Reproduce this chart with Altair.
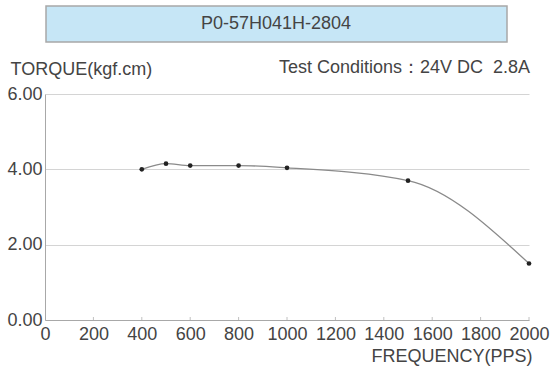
import altair as alt
import pandas as pd

freq = [400, 500, 600, 800, 1000, 1500, 2000]
torque = [4.00, 4.15, 4.10, 4.10, 4.04, 3.70, 1.50]
x_ticks = [0, 200, 400, 600, 800, 1000, 1200, 1400, 1600, 1800, 2000]
y_ticks = [0, 2, 4, 6]
model = "P0-57H041H-2804"
cond = "Test Conditions：24V DC\u00a0 2.8A"

df = pd.DataFrame({"f": freq, "t": torque})
ticks_df = pd.DataFrame({"f": x_ticks[1:]})

W, H = 484, 226
FONT = "Liberation Sans"
TXT = "#444444"

xs = alt.Scale(domain=[0, 2000], nice=False, zero=False)
ys = alt.Scale(domain=[0, 6], nice=False)

x_enc = alt.X("f:Q", scale=xs, axis=alt.Axis(
    values=x_ticks, format="d", grid=False, ticks=False,
    domainColor="#a8a8a8", labelFontSize=18, labelColor=TXT, labelFont=FONT,
    labelPadding=5, labelFlush=False,
    title="FREQUENCY(PPS)", titleFont=FONT, titleFontSize=18, titleFontWeight="normal",
    titleColor=TXT, titleAlign="right", titleAnchor="end", titleX=487, titleY=41,
    titleBaseline="alphabetic"))
y_enc = alt.Y("t:Q", scale=ys, axis=alt.Axis(
    values=y_ticks, format=".2f", grid=True, gridColor="#d4d4d4", ticks=False,
    domainColor="#a8a8a8", labelFontSize=18, labelColor=TXT, labelFont=FONT,
    labelPadding=3, labelFlush=False,
    title="TORQUE(kgf.cm)", titleFont=FONT, titleFontSize=18, titleFontWeight="normal",
    titleColor=TXT, titleAngle=0, titleAlign="left", titleX=-35, titleY=-20,
    titleBaseline="alphabetic"))

line = alt.Chart(df).mark_line(interpolate="monotone", color="#8a8a8a", strokeWidth=1.3).encode(
    x=x_enc, y=y_enc)
pts = alt.Chart(df).mark_circle(color="#222222", size=22, opacity=1).encode(
    x=alt.X("f:Q", scale=xs), y=alt.Y("t:Q", scale=ys))
tks = alt.Chart(ticks_df).mark_rule(color="#c0c0c0", strokeWidth=1).encode(
    x=alt.X("f:Q", scale=xs), y=alt.value(H - 3), y2=alt.value(H))

box = alt.Chart(pd.DataFrame({"a": [0]})).mark_rect(
    fill="#c6e6f6", stroke="#a8a8a8", strokeWidth=1.5).encode(
    x=alt.value(1), x2=alt.value(462), y=alt.value(-88), y2=alt.value(-52))
title_txt = alt.Chart(pd.DataFrame({"s": [model]})).mark_text(
    font=FONT, fontSize=18, color=TXT, align="center", baseline="middle").encode(
    x=alt.value(231), y=alt.value(-70), text="s:N")
cond_txt = alt.Chart(pd.DataFrame({"s": [cond]})).mark_text(
    font=FONT, fontSize=18, color=TXT, align="right", baseline="alphabetic").encode(
    x=alt.value(485), y=alt.value(-21), text="s:N")

chart = alt.layer(line, tks, pts, box, title_txt, cond_txt).properties(
    width=W, height=H,
    autosize=alt.AutoSizeParams(type="none"),
    padding={"left": 45, "top": 94, "right": 23, "bottom": 57},
    background="white",
).configure_view(strokeWidth=0)

chart.save("out.html", embed_options={"renderer": "svg", "actions": False})
